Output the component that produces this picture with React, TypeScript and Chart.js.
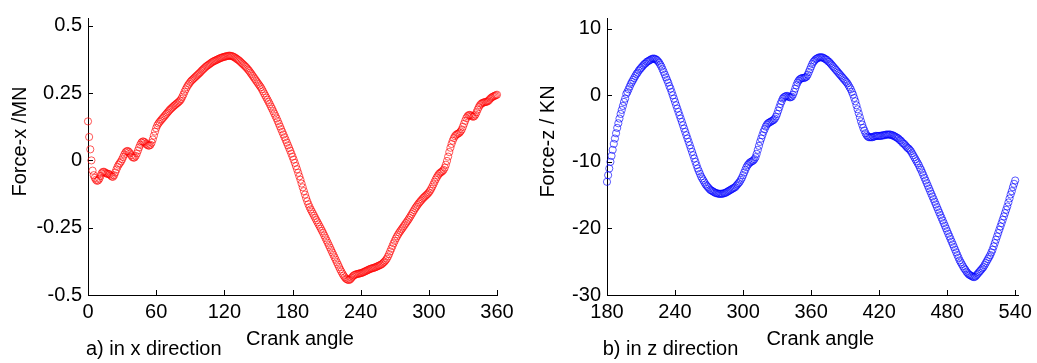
import React, { useEffect, useRef } from "react";
import { Chart, registerables } from "chart.js";

Chart.register(...registerables);

const FONT = '"Liberation Sans", Arial, Helvetica, sans-serif';

// Panel a) Force in x direction (MN), crank angle 0..360, one sample per degree
const angleStartA = 0;
const forceX = [
  0.145, 0.087, 0.041, 0.0, -0.038, -0.055, -0.065, -0.072, -0.076, -0.074,
  -0.068, -0.058, -0.048, -0.043, -0.042, -0.045, -0.048, -0.05, -0.05, -0.052,
  -0.056, -0.06, -0.061, -0.055, -0.045, -0.034, -0.024, -0.016, -0.01, -0.004,
  0.004, 0.013, 0.022, 0.03, 0.034, 0.035, 0.032, 0.026, 0.019, 0.013,
  0.01, 0.011, 0.017, 0.026, 0.037, 0.048, 0.058, 0.066, 0.07, 0.07,
  0.067, 0.062, 0.058, 0.055, 0.055, 0.058, 0.066, 0.078, 0.092, 0.107,
  0.12, 0.13, 0.137, 0.143, 0.148, 0.153, 0.158, 0.163, 0.168, 0.173,
  0.178, 0.183, 0.188, 0.192, 0.196, 0.2, 0.204, 0.207, 0.211, 0.214,
  0.218, 0.222, 0.228, 0.236, 0.245, 0.255, 0.264, 0.272, 0.279, 0.285,
  0.291, 0.296, 0.3, 0.304, 0.308, 0.312, 0.316, 0.32, 0.324, 0.328,
  0.333, 0.337, 0.341, 0.345, 0.349, 0.352, 0.355, 0.358, 0.361, 0.364,
  0.367, 0.369, 0.371, 0.373, 0.375, 0.377, 0.379, 0.381, 0.382, 0.384,
  0.385, 0.386, 0.387, 0.388, 0.389, 0.389, 0.388, 0.387, 0.385, 0.383,
  0.38, 0.377, 0.374, 0.371, 0.367, 0.363, 0.359, 0.355, 0.351, 0.347,
  0.342, 0.337, 0.332, 0.326, 0.32, 0.314, 0.308, 0.302, 0.296, 0.29,
  0.284, 0.278, 0.272, 0.265, 0.257, 0.249, 0.241, 0.233, 0.225, 0.217,
  0.209, 0.2, 0.192, 0.183, 0.174, 0.165, 0.156, 0.146, 0.136, 0.126,
  0.116, 0.106, 0.096, 0.086, 0.076, 0.066, 0.056, 0.046, 0.036, 0.025,
  0.014, 0.003, -0.009, -0.021, -0.033, -0.046, -0.059, -0.072, -0.086, -0.1,
  -0.114, -0.127, -0.14, -0.152, -0.163, -0.173, -0.182, -0.19, -0.198, -0.206,
  -0.214, -0.222, -0.23, -0.238, -0.246, -0.254, -0.262, -0.27, -0.279, -0.288,
  -0.297, -0.306, -0.315, -0.324, -0.333, -0.342, -0.351, -0.36, -0.369, -0.378,
  -0.387, -0.396, -0.405, -0.413, -0.421, -0.428, -0.434, -0.439, -0.442, -0.444,
  -0.444, -0.441, -0.436, -0.431, -0.427, -0.425, -0.423, -0.422, -0.421, -0.42,
  -0.419, -0.418, -0.416, -0.414, -0.412, -0.41, -0.408, -0.406, -0.404, -0.402,
  -0.401, -0.4, -0.398, -0.397, -0.395, -0.393, -0.391, -0.389, -0.387, -0.384,
  -0.38, -0.376, -0.371, -0.365, -0.357, -0.348, -0.338, -0.328, -0.318, -0.308,
  -0.299, -0.29, -0.282, -0.275, -0.268, -0.262, -0.256, -0.25, -0.244, -0.238,
  -0.232, -0.226, -0.22, -0.213, -0.206, -0.199, -0.192, -0.185, -0.178, -0.172,
  -0.166, -0.16, -0.155, -0.15, -0.145, -0.14, -0.136, -0.132, -0.128, -0.124,
  -0.119, -0.113, -0.106, -0.098, -0.089, -0.08, -0.071, -0.063, -0.056, -0.05,
  -0.046, -0.043, -0.04, -0.035, -0.027, -0.016, -0.002, 0.014, 0.031, 0.047,
  0.061, 0.073, 0.083, 0.09, 0.095, 0.098, 0.1, 0.103, 0.108, 0.115,
  0.125, 0.136, 0.147, 0.157, 0.164, 0.168, 0.169, 0.167, 0.164, 0.162,
  0.164, 0.17, 0.179, 0.189, 0.198, 0.205, 0.21, 0.213, 0.215, 0.216,
  0.217, 0.218, 0.22, 0.224, 0.229, 0.233, 0.236, 0.238, 0.24, 0.242,
  0.244,
];

// Panel b) Force in z direction (KN), crank angle 180..540, one sample per degree
const angleStartB = 180;
const forceZ = [
  -13.0, -12.0, -11.0, -10.0, -9.1, -8.2, -7.3, -6.5, -5.7, -4.9,
  -4.2, -3.5, -2.8, -2.2, -1.6, -1.0, -0.5, 0.2, 0.5, 0.9,
  1.3, 1.7, 2.0, 2.3, 2.6, 2.9, 3.2, 3.4, 3.7, 3.9,
  4.1, 4.3, 4.5, 4.7, 4.8, 5.0, 5.1, 5.2, 5.3, 5.4,
  5.5, 5.5, 5.5, 5.4, 5.3, 5.1, 4.9, 4.6, 4.3, 3.9,
  3.5, 3.1, 2.7, 2.3, 1.9, 1.4, 1.0, 0.5, 0.0, -0.5,
  -1.0, -1.5, -2.0, -2.5, -3.0, -3.5, -4.0, -4.5, -5.0, -5.5,
  -6.0, -6.5, -7.0, -7.5, -8.0, -8.5, -9.0, -9.5, -10.0, -10.5,
  -11.0, -11.4, -11.8, -12.2, -12.5, -12.8, -13.1, -13.4, -13.6, -13.8,
  -14.0, -14.2, -14.3, -14.4, -14.5, -14.6, -14.7, -14.7, -14.8, -14.8,
  -14.8, -14.8, -14.8, -14.7, -14.7, -14.6, -14.5, -14.4, -14.3, -14.2,
  -14.1, -14.0, -13.9, -13.8, -13.6, -13.4, -13.2, -13.0, -12.7, -12.4,
  -12.0, -11.6, -11.2, -10.8, -10.5, -10.3, -10.1, -10.0, -9.9, -9.8,
  -9.6, -9.3, -8.8, -8.2, -7.6, -7.0, -6.5, -6.0, -5.5, -5.1,
  -4.7, -4.4, -4.2, -4.1, -4.0, -3.9, -3.8, -3.7, -3.5, -3.2,
  -2.8, -2.3, -1.8, -1.3, -0.9, -0.5, -0.3, -0.2, -0.1, -0.1,
  -0.2, -0.3, -0.3, -0.2, 0.1, 0.5, 1.0, 1.5, 1.9, 2.2,
  2.4, 2.5, 2.6, 2.6, 2.6, 2.7, 2.8, 3.1, 3.5, 3.9,
  4.3, 4.7, 5.0, 5.2, 5.4, 5.5, 5.6, 5.7, 5.7, 5.7,
  5.7, 5.6, 5.5, 5.4, 5.3, 5.1, 5.0, 4.8, 4.6, 4.4,
  4.2, 4.0, 3.8, 3.6, 3.4, 3.2, 3.0, 2.8, 2.6, 2.4,
  2.2, 2.0, 1.8, 1.5, 1.2, 0.9, 0.5, 0.1, -0.4, -0.9,
  -1.5, -2.1, -2.7, -3.3, -3.9, -4.4, -4.9, -5.3, -5.7, -6.0,
  -6.2, -6.3, -6.3, -6.3, -6.3, -6.2, -6.2, -6.1, -6.1, -6.1,
  -6.1, -6.1, -6.1, -6.0, -6.0, -6.0, -5.9, -5.9, -5.9, -5.9,
  -5.9, -6.0, -6.0, -6.1, -6.2, -6.3, -6.4, -6.5, -6.7, -6.8,
  -7.0, -7.2, -7.3, -7.5, -7.7, -7.9, -8.0, -8.2, -8.4, -8.7,
  -9.0, -9.3, -9.6, -9.9, -10.2, -10.5, -10.9, -11.2, -11.6, -12.0,
  -12.4, -12.8, -13.2, -13.6, -14.0, -14.4, -14.8, -15.2, -15.6, -16.0,
  -16.4, -16.8, -17.2, -17.6, -18.0, -18.4, -18.8, -19.2, -19.6, -20.0,
  -20.4, -20.8, -21.2, -21.6, -22.0, -22.4, -22.8, -23.2, -23.6, -24.0,
  -24.4, -24.8, -25.1, -25.4, -25.7, -26.0, -26.2, -26.5, -26.7, -26.9,
  -27.0, -27.1, -27.2, -27.3, -27.3, -27.2, -27.0, -26.8, -26.6, -26.4,
  -26.2, -26.0, -25.8, -25.5, -25.2, -24.9, -24.6, -24.3, -24.0, -23.6,
  -23.2, -22.7, -22.2, -21.7, -21.2, -20.7, -20.2, -19.7, -19.2, -18.7,
  -18.2, -17.7, -17.2, -16.7, -16.1, -15.5, -14.9, -14.4, -13.8, -13.3,
  -12.8,
];

const xTicksA = [0, 60, 120, 180, 240, 300, 360];
const yTicksA = [-0.5, -0.25, 0, 0.25, 0.5];
const xTicksB = [180, 240, 300, 360, 420, 480, 540];
const yTicksB = [-30, -20, -10, 0, 10];

const xTitle = "Crank angle";
const yTitleA = "Force-x /MN";
const yTitleB = "Force-z / KN";
const captionA = "a) in x direction";
const captionB = "b) in z direction";

const decor = {
  id: "decor",
  afterDraw(chart: any, _args: any, opts: any) {
    const { ctx, chartArea, scales } = chart;
    const xs = scales.x;
    const ys = scales.y;
    ctx.save();
    ctx.strokeStyle = "#000";
    ctx.lineWidth = 1;
    ctx.beginPath();
    xs.ticks.forEach((t: any) => {
      const px = Math.round(xs.getPixelForValue(t.value)) + 0.5;
      ctx.moveTo(px, chartArea.bottom);
      ctx.lineTo(px, chartArea.bottom - 5);
    });
    ys.ticks.forEach((t: any) => {
      const py = Math.round(ys.getPixelForValue(t.value)) + 0.5;
      ctx.moveTo(chartArea.left, py);
      ctx.lineTo(chartArea.left + 5, py);
    });
    ctx.stroke();

    ctx.fillStyle = "#000";
    ctx.font = `20px ${FONT}`;
    ctx.textBaseline = "middle";
    ctx.textAlign = "center";
    ctx.fillText(opts.xTitle, opts.xTitleX, opts.xTitleY);
    ctx.save();
    ctx.translate(opts.yTitleX, opts.yTitleY);
    ctx.rotate(-Math.PI / 2);
    ctx.fillText(opts.yTitle, 0, 0);
    ctx.restore();
    ctx.textAlign = "left";
    ctx.fillText(opts.caption, opts.capX, opts.capY);
    ctx.restore();
  },
};

type PanelProps = {
  left: number;
  width: number;
  values: number[];
  start: number;
  color: string;
  xTicks: number[];
  yTicks: number[];
  xMin: number;
  xMax: number;
  yMin: number;
  yMax: number;
  axisW: number;
  padRight: number;
  yTitle: string;
  caption: string;
  yTitleX: number;
  xTitleX: number;
  capX: number;
};

function Panel(p: PanelProps) {
  const ref = useRef<HTMLCanvasElement | null>(null);
  useEffect(() => {
    if (!ref.current) return;
    const pts = p.values.map((v, i) => ({ x: p.start + i, y: v }));
    const tickFont = { family: FONT, size: 20 };
    const chart = new Chart(ref.current, {
      type: "scatter",
      data: {
        datasets: [
          {
            data: pts,
            showLine: false,
            pointStyle: "circle",
            pointRadius: 3.6,
            pointHoverRadius: 3.6,
            pointBorderWidth: 0.9,
            pointBorderColor: p.color,
            pointBackgroundColor: "rgba(0,0,0,0)",
            clip: false,
          } as any,
        ],
      },
      options: {
        animation: false,
        responsive: false,
        devicePixelRatio: 1,
        events: [],
        layout: {
          padding: { left: 0, right: p.padRight, top: 11, bottom: 0 },
          autoPadding: false,
        } as any,
        plugins: {
          legend: { display: false },
          tooltip: { enabled: false },
          decor: {
            xTitle,
            xTitleX: p.xTitleX,
            xTitleY: 339.5,
            yTitle: p.yTitle,
            yTitleX: p.yTitleX,
            yTitleY: 141.5,
            caption: p.caption,
            capX: p.capX,
            capY: 349.5,
          },
        } as any,
        scales: {
          x: {
            type: "linear",
            min: p.xMin,
            max: p.xMax,
            afterBuildTicks: (s: any) => {
              s.ticks = p.xTicks.map((v) => ({ value: v }));
            },
            afterFit: (s: any) => {
              s.height = 68;
            },
            grid: { display: true, drawOnChartArea: false, drawTicks: false },
            border: { display: true, color: "#000", width: 1 },
            ticks: {
              font: tickFont,
              color: "#000",
              padding: 5,
              maxRotation: 0,
              autoSkip: false,
              callback: (v: any) => String(v),
            },
          },
          y: {
            type: "linear",
            min: p.yMin,
            max: p.yMax,
            afterBuildTicks: (s: any) => {
              s.ticks = p.yTicks.map((v) => ({ value: v }));
            },
            afterFit: (s: any) => {
              s.width = p.axisW;
            },
            grid: { display: true, drawOnChartArea: false, drawTicks: false },
            border: { display: true, color: "#000", width: 1 },
            ticks: {
              font: tickFont,
              color: "#000",
              padding: 6,
              autoSkip: false,
              callback: (v: any) => String(v),
            },
          },
        },
      },
      plugins: [decor as any],
    });
    return () => chart.destroy();
  }, []);
  return (
    <canvas
      ref={ref}
      width={p.width}
      height={363}
      style={{ position: "absolute", left: p.left, top: 0, width: p.width, height: 363 }}
    />
  );
}

export default function App() {
  return (
    <div
      style={{
        position: "absolute",
        left: 0,
        top: 0,
        width: 1037,
        height: 363,
        background: "#fff",
        overflow: "hidden",
      }}
    >
      <Panel
        left={0}
        width={520}
        values={forceX}
        start={angleStartA}
        color="rgba(255,0,0,0.72)"
        xTicks={xTicksA}
        yTicks={yTicksA}
        xMin={0}
        xMax={360}
        yMin={-0.5}
        yMax={0.529}
        axisW={88}
        padRight={23}
        yTitle={yTitleA}
        caption={captionA}
        yTitleX={20}
        xTitleX={300}
        capX={86}
      />
      <Panel
        left={520}
        width={517}
        values={forceZ}
        start={angleStartB}
        color="rgba(0,0,255,0.72)"
        xTicks={xTicksB}
        yTicks={yTicksB}
        xMin={180}
        xMax={542.6}
        yMin={-30}
        yMax={11.61}
        axisW={87}
        padRight={16}
        yTitle={yTitleB}
        caption={captionB}
        yTitleX={28}
        xTitleX={300.3}
        capX={82.7}
      />
    </div>
  );
}
